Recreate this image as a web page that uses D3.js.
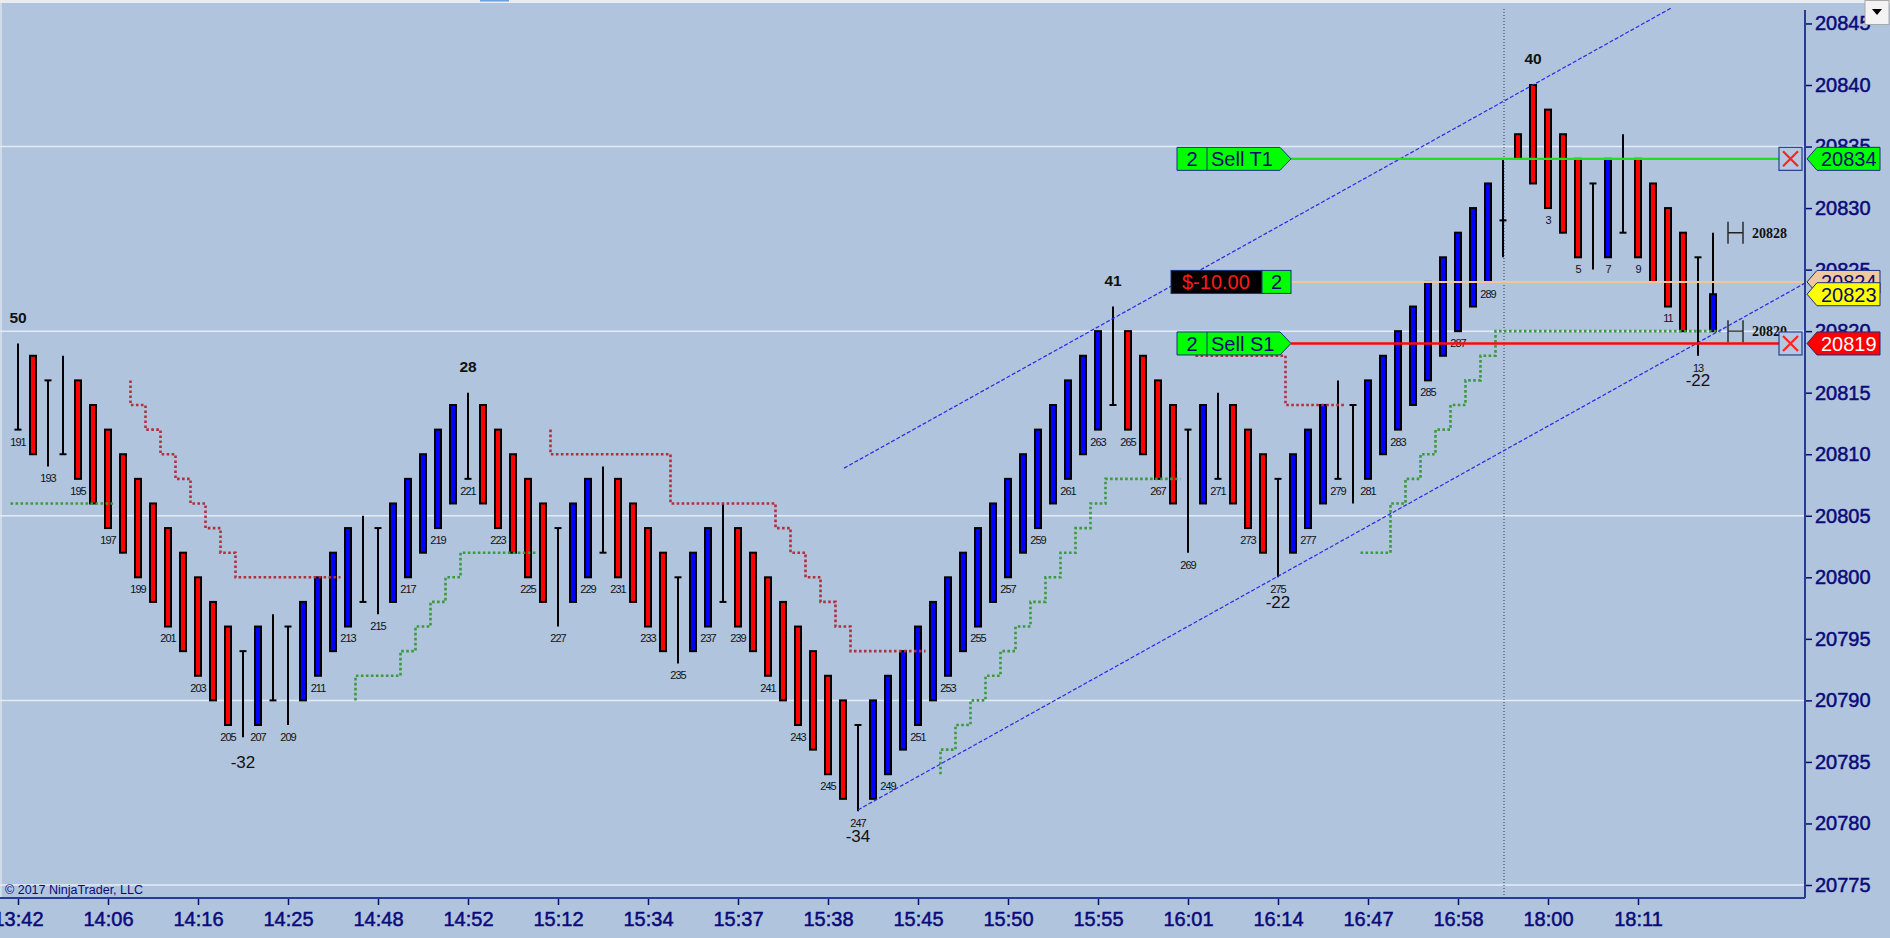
<!DOCTYPE html>
<html>
<head>
<meta charset="utf-8">
<script src="https://cdn.jsdelivr.net/npm/d3@7"></script>
<style>
html, body { margin: 0; padding: 0; background: #b0c4de; overflow: hidden; }
svg { display: block; font-family: "Liberation Sans", Arial, sans-serif; }
</style>
</head>
<body>
<div id="chart"></div>
<script>
"use strict";

// Bar numbers: last session 191..290, new session 1..14
const barNums = d3.range(191, 291).concat(d3.range(1, 15));

const opens = [
  20812, 20818, 20816, 20810, 20816, 20814, 20812, 20810, 20808, 20806,
  20804, 20802, 20800, 20798, 20796, 20794, 20788, 20790, 20796, 20790,
  20792, 20794, 20796, 20798, 20804, 20798, 20800, 20802, 20804, 20806,
  20808, 20814, 20812, 20810, 20808, 20806, 20804, 20798, 20800, 20802,
  20808, 20806, 20804, 20802, 20800, 20794, 20796, 20798, 20804, 20802,
  20800, 20798, 20796, 20794, 20792, 20790, 20788, 20782, 20784, 20786,
  20788, 20790, 20792, 20794, 20796, 20798, 20800, 20802, 20804, 20806,
  20808, 20810, 20812, 20814, 20820, 20818, 20816, 20814, 20812, 20806,
  20808, 20814, 20812, 20810, 20808, 20802, 20804, 20806, 20808, 20814,
  20808, 20810, 20812, 20814, 20816, 20818, 20820, 20822, 20824, 20829,
  20836, 20840, 20838, 20836, 20834, 20832, 20826, 20828, 20834, 20832,
  20830, 20828, 20826, 20820
];
const highs = [
  20819, 20818, 20816, 20818, 20816, 20814, 20812, 20810, 20808, 20806,
  20804, 20802, 20800, 20798, 20796, 20794, 20796, 20797, 20796, 20798,
  20800, 20802, 20804, 20805, 20804, 20806, 20808, 20810, 20812, 20814,
  20815, 20814, 20812, 20810, 20808, 20806, 20804, 20806, 20808, 20809,
  20808, 20806, 20804, 20802, 20800, 20802, 20804, 20806, 20804, 20802,
  20800, 20798, 20796, 20794, 20792, 20790, 20788, 20790, 20792, 20794,
  20796, 20798, 20800, 20802, 20804, 20806, 20808, 20810, 20812, 20814,
  20816, 20818, 20820, 20822, 20820, 20818, 20816, 20814, 20812, 20814,
  20815, 20814, 20812, 20810, 20808, 20810, 20812, 20814, 20816, 20814,
  20816, 20818, 20820, 20822, 20824, 20826, 20828, 20830, 20832, 20834,
  20836, 20840, 20838, 20836, 20834, 20832, 20834, 20836, 20834, 20832,
  20830, 20828, 20826, 20828
];
const lows = [
  20812, 20810, 20809, 20810, 20808, 20806, 20804, 20802, 20800, 20798,
  20796, 20794, 20792, 20790, 20788, 20787, 20788, 20790, 20788, 20790,
  20792, 20794, 20796, 20798, 20797, 20798, 20800, 20802, 20804, 20806,
  20808, 20806, 20804, 20802, 20800, 20798, 20796, 20798, 20800, 20802,
  20800, 20798, 20796, 20794, 20793, 20794, 20796, 20798, 20796, 20794,
  20792, 20790, 20788, 20786, 20784, 20782, 20781, 20782, 20784, 20786,
  20788, 20790, 20792, 20794, 20796, 20798, 20800, 20802, 20804, 20806,
  20808, 20810, 20812, 20814, 20812, 20810, 20808, 20806, 20802, 20806,
  20808, 20806, 20804, 20802, 20800, 20802, 20804, 20806, 20808, 20806,
  20808, 20810, 20812, 20814, 20816, 20818, 20820, 20822, 20824, 20826,
  20834, 20832, 20830, 20828, 20826, 20825, 20826, 20828, 20826, 20824,
  20822, 20820, 20818, 20820
];
const closes = [
  20812, 20810, 20816, 20810, 20808, 20806, 20804, 20802, 20800, 20798,
  20796, 20794, 20792, 20790, 20788, 20794, 20796, 20790, 20796, 20798,
  20800, 20802, 20804, 20798, 20804, 20806, 20808, 20810, 20812, 20814,
  20808, 20806, 20804, 20802, 20800, 20798, 20804, 20806, 20808, 20802,
  20800, 20798, 20796, 20794, 20800, 20802, 20804, 20798, 20796, 20794,
  20792, 20790, 20788, 20786, 20784, 20782, 20788, 20790, 20792, 20794,
  20796, 20798, 20800, 20802, 20804, 20806, 20808, 20810, 20812, 20814,
  20816, 20818, 20820, 20814, 20812, 20810, 20808, 20806, 20812, 20814,
  20808, 20806, 20804, 20802, 20808, 20810, 20812, 20814, 20808, 20814,
  20816, 20818, 20820, 20822, 20824, 20826, 20828, 20830, 20832, 20829,
  20834, 20832, 20830, 20828, 20826, 20832, 20834, 20828, 20826, 20824,
  20822, 20820, 20826, 20823
];

const timeLabels = ["13:42", "14:06", "14:16", "14:25", "14:48", "14:52", "15:12", "15:34", "15:37", "15:38",
  "15:45", "15:50", "15:55", "16:01", "16:14", "16:47", "16:58", "18:00", "18:11"];
const priceTicks = d3.range(20775, 20846, 5);
const gridPrices = [20775, 20790, 20805, 20820, 20835];

// swing counts (above highs / below lows)
const swingBars = [191, 206, 221, 247, 264, 275, 2, 13];
const swingText = ["50", "-32", "28", "-34", "41", "-22", "40", "-22"];

// trailing stops: [bar where step starts, price], last bar
const redStops = [
  { pts: [[199, 20816], [199, 20814], [200, 20812], [201, 20810], [202, 20808], [203, 20806], [204, 20804], [205, 20802], [206, 20800]], end: 212 },
  { pts: [[227, 20812], [227, 20810], [235, 20806], [242, 20804], [243, 20802], [244, 20800], [245, 20798], [246, 20796], [247, 20794]], end: 251 },
  { pts: [[270, 20818], [276, 20814]], end: 279 }
];
const greenStops = [
  { pts: [[191, 20806]], end: 197 },
  { pts: [[214, 20790], [214, 20792], [217, 20794], [218, 20796], [219, 20798], [220, 20800], [221, 20802]], end: 225 },
  { pts: [[253, 20784], [253, 20786], [254, 20788], [255, 20790], [256, 20792], [257, 20794], [258, 20796], [259, 20798], [260, 20800], [261, 20802], [262, 20804], [263, 20806], [264, 20808]], end: 268 },
  { pts: [[281, 20802], [283, 20806], [284, 20808], [285, 20810], [286, 20812], [287, 20814], [288, 20816], [289, 20818], [290, 20820]], end: 14 }
];

// regression channel
const channelBar = 247, channelPrice = 20781.1, channelSlope = 0.678, channelWidth = 28.4, upperStartOffset = -0.93;

// orders / position
const targetPrice = 20834, stopPrice = 20819, entryPrice = 20824, lastPrice = 20823;
const orderQty = "2", pnlText = "$-10.00";
const hiLoMarks = [20828, 20820];
const sessionBreakBar = 290;

// layout
const W = 1890, H = 938;
const plotRight = 1805, plotBottom = 898, plotTop = 3;
const flagRight = 1291;

const bi = b => b >= 191 ? b - 191 : b + 99;

const x = d3.scaleLinear().domain([0, 1]).range([18, 33]);
const y = d3.scaleLinear().domain([20775, 20840]).range([885, 85]);
const half = 7.5;

const svg = d3.select("#chart").append("svg")
  .attr("width", W).attr("height", H);

svg.append("rect").attr("width", W).attr("height", H).attr("fill", "#b0c4de");
svg.append("rect").attr("width", W).attr("height", 3).attr("fill", "#e9edf2");
svg.append("rect").attr("x", 480).attr("width", 29).attr("height", 1.5).attr("fill", "#6f9fd8");
svg.append("rect").attr("y", 3).attr("width", 2).attr("height", plotBottom - 3).attr("fill", "#cfdbea");

svg.append("defs").append("clipPath").attr("id", "plot")
  .append("rect").attr("x", 0).attr("y", 8).attr("width", plotRight).attr("height", plotBottom - 8);

const plot = svg.append("g").attr("clip-path", "url(#plot)");

// gridlines
plot.selectAll(".grid").data(gridPrices).enter().append("line")
  .attr("x1", 0).attr("x2", plotRight)
  .attr("y1", d => y(d)).attr("y2", d => y(d))
  .attr("stroke", "#e4ebf4").attr("stroke-width", 1.5);

// session break
plot.append("line")
  .attr("x1", x(bi(sessionBreakBar)) + 1).attr("x2", x(bi(sessionBreakBar)) + 1)
  .attr("y1", plotTop).attr("y2", plotBottom)
  .attr("stroke", "#3a3a4a").attr("stroke-width", 1).attr("stroke-dasharray", "1,2");

// bars
const idx = d3.range(barNums.length);
const barG = plot.append("g");
idx.forEach(i => {
  const cx = x(i);
  const doji = opens[i] === closes[i];
  barG.append("line")
    .attr("x1", cx).attr("x2", cx)
    .attr("y1", y(highs[i])).attr("y2", y(lows[i]))
    .attr("stroke", "#000").attr("stroke-width", 2);
  if (doji) {
    barG.append("line")
      .attr("x1", cx - 3.5).attr("x2", cx + 3.5)
      .attr("y1", y(opens[i])).attr("y2", y(opens[i]))
      .attr("stroke", "#000").attr("stroke-width", 2);
  } else {
    const top = Math.max(opens[i], closes[i]), bot = Math.min(opens[i], closes[i]);
    barG.append("rect")
      .attr("x", cx - 3).attr("width", 6)
      .attr("y", y(top)).attr("height", y(bot) - y(top))
      .attr("fill", closes[i] > opens[i] ? "#0000ff" : "#ff0000")
      .attr("stroke", "#000").attr("stroke-width", 2);
  }
});

// trailing stop step lines
function stepPath(s) {
  const p = s.pts;
  let d = `M${x(bi(p[0][0])) - half},${y(p[0][1])}`;
  for (let k = 1; k < p.length; k++) {
    d += `H${x(bi(p[k][0])) - half}V${y(p[k][1])}`;
  }
  return d + `H${x(bi(s.end)) + half}`;
}
plot.selectAll(".rstop").data(redStops).enter().append("path")
  .attr("d", stepPath).attr("fill", "none")
  .attr("stroke", "#b0303c").attr("stroke-width", 2.6).attr("stroke-dasharray", "2.6,2.4");
plot.selectAll(".gstop").data(greenStops).enter().append("path")
  .attr("d", stepPath).attr("fill", "none")
  .attr("stroke", "#3c9a3c").attr("stroke-width", 2.6).attr("stroke-dasharray", "2.6,2.4");

// channel
const chEnd = x.invert(plotRight);
const chY = i => channelPrice + (i - bi(channelBar)) * channelSlope;
plot.append("line")
  .attr("x1", x(bi(channelBar))).attr("y1", y(chY(bi(channelBar))))
  .attr("x2", x(chEnd)).attr("y2", y(chY(chEnd)))
  .attr("stroke", "#2a2ae8").attr("stroke-width", 1.2).attr("stroke-dasharray", "4,2");
const upStart = bi(channelBar) + upperStartOffset;
plot.append("line")
  .attr("x1", x(upStart)).attr("y1", y(chY(upStart) + channelWidth))
  .attr("x2", x(chEnd)).attr("y2", y(chY(chEnd) + channelWidth))
  .attr("stroke", "#2a2ae8").attr("stroke-width", 1.2).attr("stroke-dasharray", "4,2");

// bar numbers
plot.selectAll(".num").data(idx.filter(i => barNums[i] % 2 === 1 && barNums[i] !== 1)).enter().append("text")
  .attr("x", i => x(i)).attr("y", i => y(lows[i]) + 13)
  .attr("text-anchor", "middle").attr("dominant-baseline", "middle")
  .attr("font-size", 11).attr("letter-spacing", "-1px").attr("fill", "#111")
  .text(i => barNums[i]);

// swing labels
swingBars.forEach((b, k) => {
  const i = bi(b), isLow = swingText[k].startsWith("-");
  plot.append("text")
    .attr("x", x(i)).attr("y", isLow ? y(lows[i]) + 26 : y(highs[i]) - 25)
    .attr("text-anchor", "middle").attr("dominant-baseline", "middle")
    .attr("font-size", isLow ? 17 : 15.5).attr("font-weight", isLow ? "normal" : "bold")
    .attr("fill", "#111")
    .text(swingText[k]);
});

// order lines
const xBoxL = 1779, xBoxW = 23;
svg.append("line").attr("x1", flagRight).attr("x2", plotRight)
  .attr("y1", y(entryPrice)).attr("y2", y(entryPrice))
  .attr("stroke", "#f2c49c").attr("stroke-width", 2);
svg.append("line").attr("x1", flagRight).attr("x2", xBoxL)
  .attr("y1", y(targetPrice)).attr("y2", y(targetPrice))
  .attr("stroke", "#1ee01e").attr("stroke-width", 2.4);
svg.append("line").attr("x1", flagRight).attr("x2", xBoxL)
  .attr("y1", y(stopPrice)).attr("y2", y(stopPrice))
  .attr("stroke", "#ff0a0a").attr("stroke-width", 2.4);

function orderFlag(price, label) {
  const cy = y(price), top = cy - 11.5, bot = cy + 11.5;
  const left = flagRight - 114, div = flagRight - 84, body = flagRight - 11;
  svg.append("path")
    .attr("d", `M${left},${top}H${body}L${flagRight},${cy}L${body},${bot}H${left}Z`)
    .attr("fill", "#00ff00").attr("stroke", "#14327a").attr("stroke-width", 1);
  svg.append("line").attr("x1", div).attr("x2", div).attr("y1", top).attr("y2", bot)
    .attr("stroke", "#14327a").attr("stroke-width", 1);
  svg.append("text").attr("x", (left + div) / 2).attr("y", cy + 7.5)
    .attr("text-anchor", "middle").attr("font-size", 20).attr("fill", "#0a0a70").text(orderQty);
  svg.append("text").attr("x", div + 4).attr("y", cy + 7.5)
    .attr("font-size", 20).attr("fill", "#0a0a70").text(label);
}
orderFlag(targetPrice, "Sell T1");
orderFlag(stopPrice, "Sell S1");

// position flag
{
  const cy = y(entryPrice), top = cy - 11.5;
  const left = flagRight - 120, div = flagRight - 29;
  svg.append("rect").attr("x", left).attr("y", top).attr("width", div - left).attr("height", 23)
    .attr("fill", "#000").attr("stroke", "#14327a");
  svg.append("rect").attr("x", div).attr("y", top).attr("width", flagRight - div).attr("height", 23)
    .attr("fill", "#00ff00").attr("stroke", "#14327a");
  svg.append("text").attr("x", left + 11).attr("y", cy + 7.5)
    .attr("font-size", 20).attr("fill", "#ff1a1a").text(pnlText);
  svg.append("text").attr("x", (div + flagRight) / 2).attr("y", cy + 7.5)
    .attr("text-anchor", "middle").attr("font-size", 20).attr("fill", "#0a0a70").text(orderQty);
}

// cancel boxes
function cancelBox(p) {
  const cy = y(p), top = cy - 11.5;
  svg.append("rect").attr("x", xBoxL).attr("y", top).attr("width", xBoxW).attr("height", 23)
    .attr("fill", "#b4c8e2").attr("stroke", "#24408c").attr("stroke-width", 1.2);
  svg.append("path")
    .attr("d", `M${xBoxL + 4},${top + 4}L${xBoxL + xBoxW - 4},${top + 19}M${xBoxL + xBoxW - 4},${top + 4}L${xBoxL + 4},${top + 19}`)
    .attr("stroke", "#ff2222").attr("stroke-width", 2.2);
}

// high / low markers
const hmX = x(barNums.length);
hiLoMarks.forEach(p => {
  const cy = y(p);
  svg.append("path")
    .attr("d", `M${hmX},${cy - 11}V${cy + 11}M${hmX + 15},${cy - 11}V${cy + 11}M${hmX},${cy}H${hmX + 15}`)
    .attr("stroke", "#222").attr("stroke-width", 1.4).attr("fill", "none");
  svg.append("text").attr("x", hmX + 24).attr("y", cy + 5)
    .attr("font-family", "'Liberation Serif', 'Times New Roman', serif")
    .attr("font-weight", "bold").attr("font-size", 14).attr("fill", "#111").text(p);
});
cancelBox(targetPrice);
cancelBox(stopPrice);

// axes
const axisColor = "#0a0a78";
const yAxis = d3.axisRight(y).tickValues(priceTicks).tickFormat(d3.format("d")).tickSize(7).tickPadding(3);
const gy = svg.append("g").attr("transform", `translate(${plotRight},0)`).call(yAxis);
gy.select(".domain").remove();
gy.selectAll(".tick line").attr("stroke", axisColor).attr("stroke-width", 1.5);
gy.selectAll(".tick text").attr("fill", axisColor).attr("font-size", 20)
  .attr("font-family", "'Liberation Sans', Arial, sans-serif")
  .attr("stroke", axisColor).attr("stroke-width", 0.5);
svg.append("line").attr("x1", plotRight).attr("x2", plotRight).attr("y1", 10).attr("y2", plotBottom)
  .attr("stroke", "#2a3a9a").attr("stroke-width", 2);

const xAxis = d3.axisBottom(x).tickValues(d3.range(0, timeLabels.length * 6, 6))
  .tickFormat((d, i) => timeLabels[i]).tickSize(7).tickPadding(7);
const gx = svg.append("g").attr("transform", `translate(0,${plotBottom})`).call(xAxis);
gx.select(".domain").remove();
gx.selectAll(".tick line").attr("stroke", axisColor).attr("stroke-width", 1.5);
gx.selectAll(".tick text").attr("fill", axisColor).attr("font-size", 20)
  .attr("font-family", "'Liberation Sans', Arial, sans-serif")
  .attr("stroke", axisColor).attr("stroke-width", 0.5);
svg.append("line").attr("x1", 0).attr("x2", plotRight).attr("y1", plotBottom).attr("y2", plotBottom)
  .attr("stroke", "#2a3a9a").attr("stroke-width", 2);

svg.append("text").attr("x", 5).attr("y", 894).attr("font-size", 12.5).attr("fill", axisColor)
  .text("\u00a9 2017 NinjaTrader, LLC");

// price tags on the axis
const tags = [
  { p: targetPrice, fill: "#00ff00", text: "#0a0a70" },
  { p: entryPrice, fill: "#f0c8a0", text: "#0a0a70" },
  { p: lastPrice, fill: "#ffff00", text: "#0a0a70" },
  { p: stopPrice, fill: "#ff0000", text: "#ffffff" }
];
tags.forEach(t => {
  const cy = y(t.p), top = cy - 11.5, bot = cy + 11.5;
  svg.append("path")
    .attr("d", `M${plotRight + 2},${cy}L${plotRight + 12},${top}H${1880}V${bot}H${plotRight + 12}Z`)
    .attr("fill", t.fill).attr("stroke", "#1c2c80").attr("stroke-width", 1);
  svg.append("text").attr("x", plotRight + 16).attr("y", cy + 7.5)
    .attr("font-size", 20).attr("fill", t.text).text(t.p);
});

// dropdown button
svg.append("rect").attr("x", 1865).attr("y", 0.5).attr("width", 24).attr("height", 24)
  .attr("fill", "#f3f3f3").attr("stroke", "#a8a8a8");
svg.append("path").attr("d", "M1872,9H1882L1877,15Z").attr("fill", "#000");
</script>
</body>
</html>
